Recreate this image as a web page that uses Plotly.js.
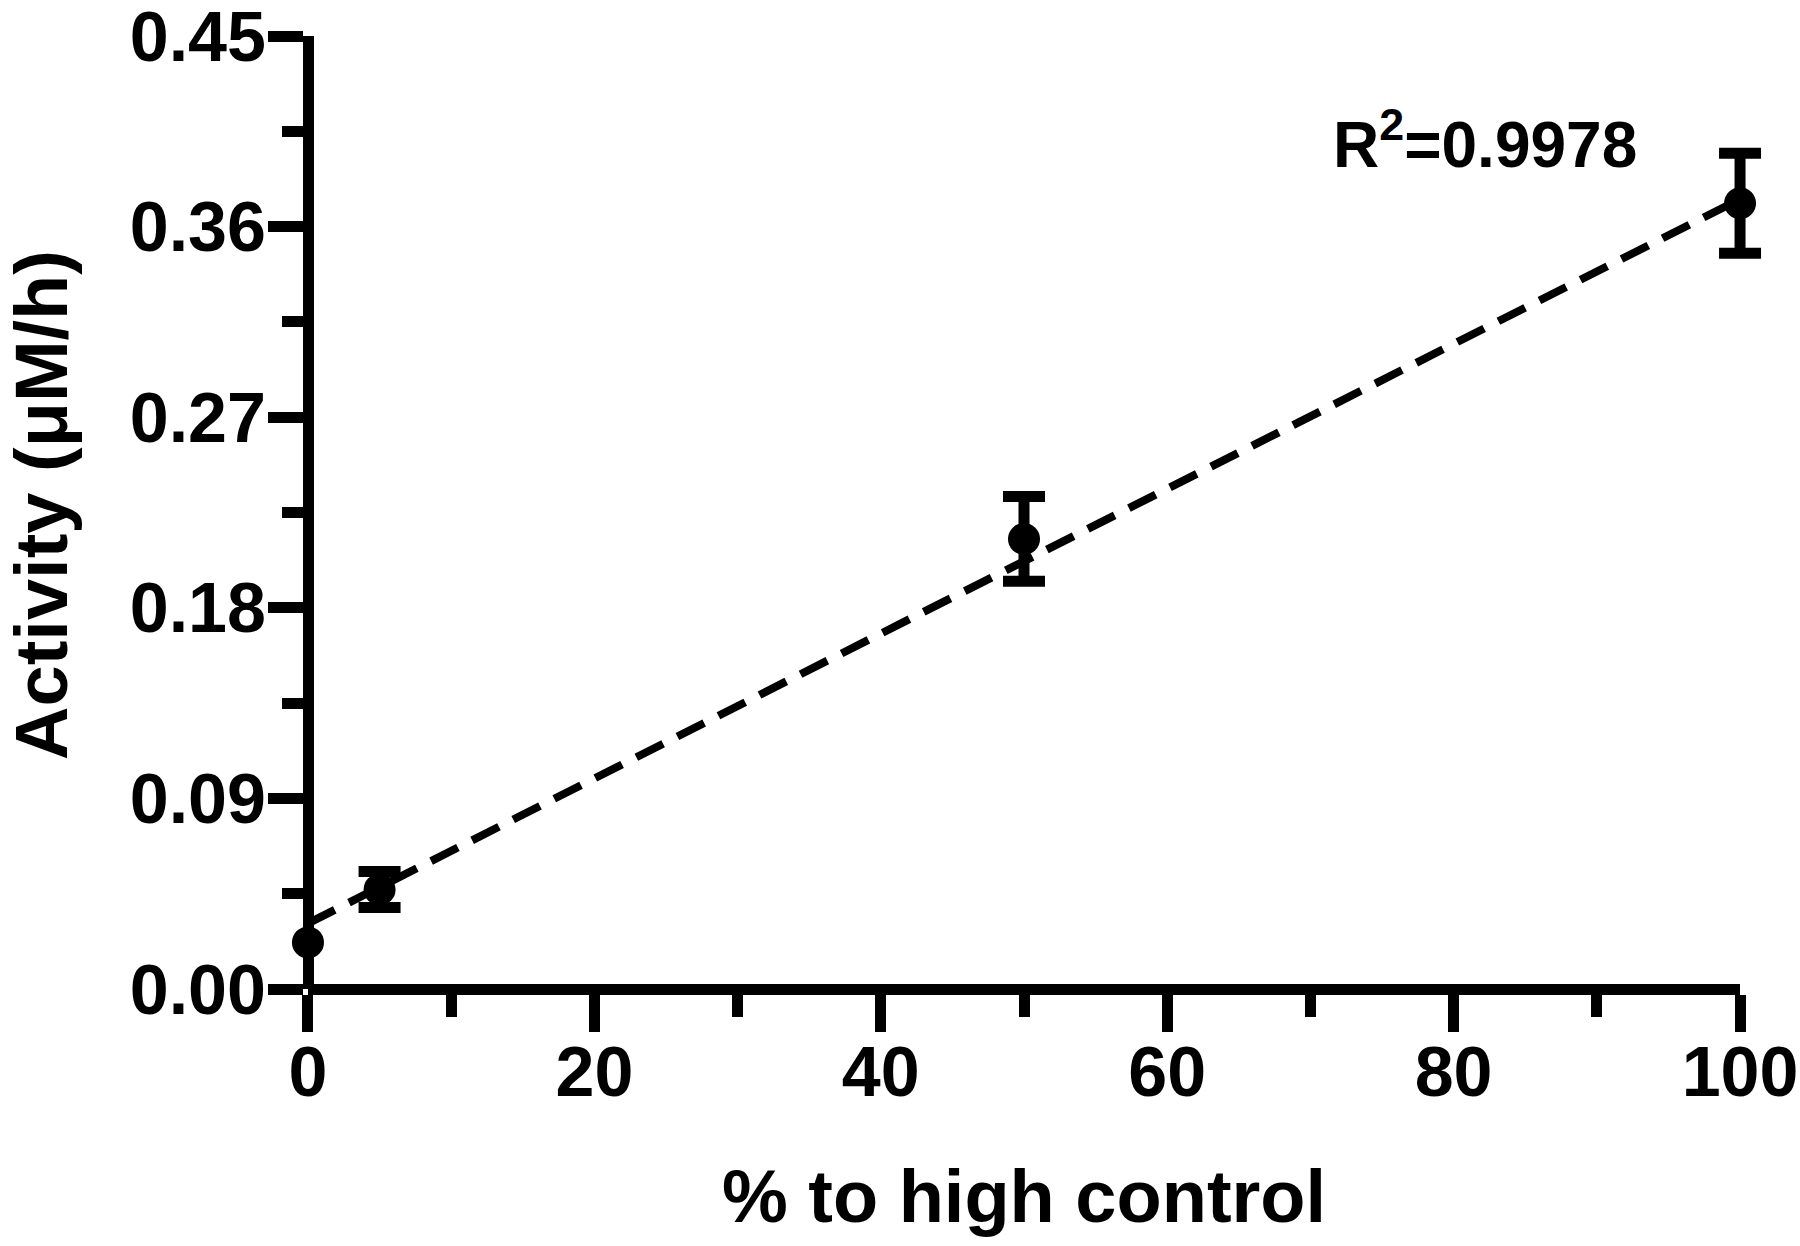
<!DOCTYPE html>
<html>
<head>
<meta charset="utf-8">
<script src="https://cdn.plot.ly/plotly-3.0.1.min.js"></script>
<style>
  html, body { margin: 0; padding: 0; background: #fff; }
  #plotArea { width: 1800px; height: 1246px; }
</style>
</head>
<body>
<div id="plotArea"></div>
<script>
// measured points (% to high control vs activity)
var pctHigh = [0, 5, 50, 100];
var activity = [0.022, 0.047, 0.2125, 0.371];
var activityErr = [NaN, 0.0085, 0.02, 0.0236]; // no bar visible at 0

// dashed fit line, read at both ends
var fitX = [0, 100];
var fitY = [0.031, 0.373];

var yTicks = [0, 0.09, 0.18, 0.27, 0.36, 0.45];

var font = "'Liberation Sans', Arial, Helvetica, sans-serif";

// data axis is a bit wider than the drawn axis so the end error bars don't get clipped
var xShown = [0, 100];
var xData = [-3, 103];
var span = xData[1] - xData[0];
var d0 = (xShown[0] - xData[0]) / span;
var d1 = (xShown[1] - xData[0]) / span;

var fit = {
    x: fitX,
    y: fitY,
    xaxis: "x2",
    yaxis: "y",
    mode: "lines",
    type: "scatter",
    line: { color: "#000", width: 8, dash: "30px,16px" },
    hoverinfo: "skip"
};

var points = {
    x: pctHigh,
    y: activity,
    xaxis: "x",
    yaxis: "y",
    mode: "markers",
    type: "scatter",
    marker: { color: "#000", size: 32 },
    error_y: { type: "data", array: activityErr, visible: true, color: "#000", thickness: 11, width: 21 },
    cliponaxis: false
};

var layout = {
    width: 1800,
    height: 1246,
    margin: { l: 265, r: 17, t: 36, b: 257 },
    paper_bgcolor: "#fff",
    plot_bgcolor: "rgba(0,0,0,0)",
    showlegend: false,
    font: { family: font, color: "#000", size: 70 },
    xaxis: {
        range: xData,
        visible: false,
        anchor: "y"
    },
    xaxis2: {
        range: xShown,
        domain: [d0, d1],
        anchor: "free",
        position: 0,
        dtick: 20,
        showgrid: false,
        zeroline: false,
        showline: true,
        linewidth: 11,
        linecolor: "#000",
        ticks: "outside",
        ticklen: 37,
        tickwidth: 11,
        tickcolor: "#000",
        minor: { dtick: 10, ticks: "outside", ticklen: 22, tickwidth: 11, tickcolor: "#000", showgrid: false },
        tickfont: { family: font, size: 70, weight: "bold" },
        ticklabelstandoff: -20,
        ticklabeloverflow: "allow",
        title: { text: "<b>% to high control</b>", font: { family: font, size: 74 }, standoff: 60 }
    },
    yaxis: {
        range: [0, 0.45],
        anchor: "free",
        position: d0,
        tickmode: "array",
        tickvals: yTicks,
        tickformat: ".2f",
        showgrid: false,
        zeroline: false,
        showline: true,
        linewidth: 11,
        linecolor: "#000",
        ticks: "outside",
        ticklen: 35,
        tickwidth: 11,
        tickcolor: "#000",
        minor: { tickmode: "linear", tick0: 0, dtick: 0.045, ticks: "outside", ticklen: 21, tickwidth: 11, tickcolor: "#000", showgrid: false },
        tickfont: { family: font, size: 70, weight: "bold" },
        ticklabelstandoff: -12,
        ticklabeloverflow: "allow"
    },
    annotations: [{
        // y axis title
        x: -0.1469,
        y: 0.508,
        xref: "paper",
        yref: "paper",
        text: "<b>Activity (μM/h)</b>",
        textangle: -90,
        showarrow: false,
        xanchor: "center",
        yanchor: "middle",
        font: { family: font, size: 74, color: "#000" }
    }, {
        x: 82.2,
        y: 0.401,
        xref: "x",
        yref: "y",
        text: "<b>R<sup>2</sup>=0.9978</b>",
        showarrow: false,
        xanchor: "center",
        yanchor: "middle",
        font: { family: font, size: 64, color: "#000" }
    }]
};

Plotly.newPlot("plotArea", [fit, points], layout, { displayModeBar: false, staticPlot: true });
</script>
</body>
</html>
